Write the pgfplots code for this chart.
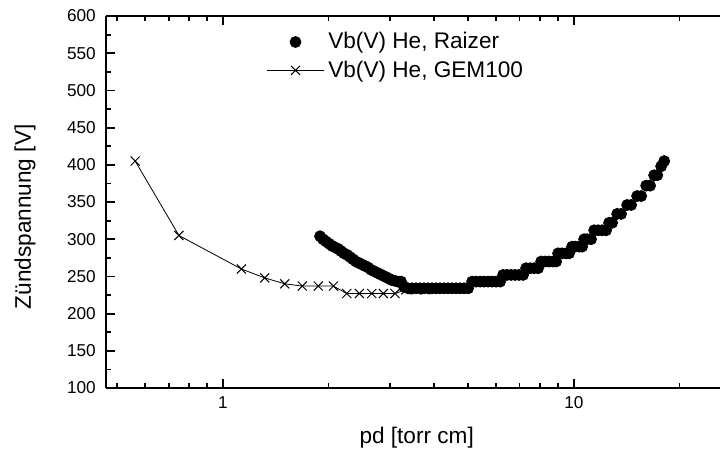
\documentclass[border=0pt]{standalone}
\usepackage{fontspec}
\setmainfont{Liberation Sans}
\usepackage{pgfplots}
\pgfplotsset{compat=1.18}

\begin{document}
\begin{tikzpicture}
\path[use as bounding box] (-53pt,-32pt) rectangle (307pt,194pt);
\begin{axis}[
    at={(0,0)}, anchor=south west,
    scale only axis,
    width=307pt, height=186pt,
    xmode=log,
    xmin=0.464, xmax=26.1,
    ymin=100, ymax=600,
    axis x line=box,
    axis y line*=left,
    axis line style={-, line width=0.9pt},
    every tick/.style={black, line width=0.9pt},
    tick align=inside,
    major tick length=4.5pt,
    minor tick length=2.4pt,
    xtick={1,10},
    xticklabels={1,10},
    minor xtick={0.5,0.6,0.7,0.8,0.9,2,3,4,5,6,7,8,9,20},
    ytick={100,150,...,600},
    minor y tick num=1,
    /pgf/number format/assume math mode=true,
    ticklabel style={font=\fontsize{8.6}{10}\selectfont},
    yticklabel style={xshift=-1.6pt},
    xticklabel style={yshift=-0.8pt},
    xlabel={pd [torr cm]},
    ylabel={Zündspannung [V]},
    label style={font=\fontsize{11.3}{13}\selectfont},
    xlabel style={at={(axis description cs:0.506,0)}, anchor=center, yshift=-25pt},
    ylabel style={at={(axis description cs:-0.132,0.46)}, anchor=center},
    legend style={at={(axis description cs:0.261,0.968)}, anchor=north west,
        draw=none, fill=none, inner sep=0pt, row sep=0.5pt,
        font=\fontsize{11.3}{13}\selectfont},
    legend cell align=left,
    legend image code/.code={\draw[mark repeat=2,mark phase=2] plot coordinates {(0cm,0cm) (0.5cm,0cm) (1cm,0cm)};},
]
\addplot[only marks, mark=*, mark size=2.75pt, black] coordinates {
(1.891,304) (1.928,300) (1.966,297) (2.006,294) (2.046,291) (2.086,289)
(2.128,287) (2.170,284) (2.213,281) (2.257,279) (2.302,276) (2.348,273)
(2.394,270) (2.442,268) (2.491,266) (2.540,264) (2.591,262) (2.642,259)
(2.695,257) (2.749,255) (2.803,253) (2.859,251) (2.916,249) (2.974,247)
(3.033,245) (3.093,244) (3.155,243) (3.218,243) (3.282,236) (3.370,234)
(3.458,234) (3.550,234) (3.645,234) (3.742,234) (3.842,234) (3.944,234)
(4.049,234) (4.157,234) (4.268,234) (4.382,234) (4.498,234) (4.618,234)
(4.741,234) (4.868,234) (4.997,234) (5.129,243) (5.266,243) (5.407,243)
(5.550,243) (5.698,243) (5.848,243) (6.004,243) (6.166,243) (6.288,252)
(6.454,252) (6.626,252) (6.802,252) (6.982,252) (7.169,252) (7.311,261)
(7.508,261) (7.706,261) (7.911,261) (8.069,270) (8.285,270) (8.504,270)
(8.730,270) (8.904,270) (9.020,281) (9.260,281) (9.506,281) (9.695,281)
(9.888,290) (10.09,290) (10.35,290) (10.56,290) (10.70,300) (10.91,300)
(11.20,300) (11.43,312) (11.73,312) (12.04,312) (12.36,312) (12.60,322)
(12.86,322) (13.29,334) (13.64,334) (14.19,346) (14.57,346) (15.15,358)
(15.56,358) (16.08,372) (16.50,372) (16.94,386) (17.29,386) (17.74,398)
(18.10,405)
};
\addlegendentry{Vb(V) He, Raizer}
\addplot[black, line width=0.4pt, mark=x, mark size=3.2pt, mark options={line width=0.5pt}] coordinates {
(0.562,405) (0.749,305) (1.128,260) (1.315,248) (1.50,240) (1.683,237)
(1.87,237) (2.064,237) (2.253,227) (2.447,227) (2.655,227) (2.866,227)
(3.093,227) (3.32,232) (3.55,232) (3.78,232)
};
\addlegendentry{Vb(V) He, GEM100}
\end{axis}
\end{tikzpicture}
\end{document}
